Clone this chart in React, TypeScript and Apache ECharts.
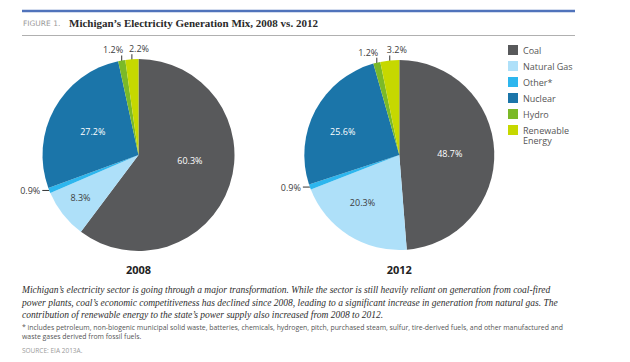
import React, { useEffect, useRef } from 'react';
import * as echarts from 'echarts';

const categories = ['Coal', 'Natural Gas', 'Other*', 'Nuclear', 'Hydro', 'Renewable Energy'];
const values2008 = [60.3, 8.3, 0.9, 27.2, 1.2, 2.2];
const values2012 = [48.7, 20.3, 0.9, 25.6, 1.2, 3.2];
const years = ['2008', '2012'];

const titlePrefix = 'FIGURE 1.';
const titleText = 'Michigan’s Electricity Generation Mix, 2008 vs. 2012';
const paragraphLines = [
  'Michigan’s electricity sector is going through a major transformation. While the sector is still heavily reliant on generation from coal-fired',
  'power plants, coal’s economic competitiveness has declined since 2008, leading to a significant increase in generation from natural gas. The',
  'contribution of renewable energy to the state’s power supply also increased from 2008 to 2012.',
];
const footnoteLines = [
  '* includes petroleum, non-biogenic municipal solid waste, batteries, chemicals, hydrogen, pitch, purchased steam, sulfur, tire-derived fuels, and other manufactured and',
  'waste gases derived from fossil fuels.',
];
const sourceText = 'SOURCE: EIA 2013A.';

// styling (not data)
const colors = ['#58595b', '#aee0f9', '#2db6ee', '#1b75a9', '#7bb928', '#c6d800'];
const innerLabelColors = ['#ffffff', '#3d3d3d', '#3d3d3d', '#ffffff', '#3d3d3d', '#3d3d3d'];
const outsidePlacement: Record<string, string> = {
  'Other*': 'left',
  Hydro: 'topLeft',
  'Renewable Energy': 'topRight',
};
const pieLayouts = [
  { center: [138.5, 155], radius: 96, nudges: [[3, -11], [-18, 11], [0, 0], [-1, 1], [0, 0], [0, 0]] },
  { center: [399.3, 155], radius: 95, nudges: [[0, 0], [-10, 5], [0, 0], [-12, 0], [0, 0], [0, 0]] },
];
const LABEL_FONT = '"Open Sans", sans-serif';

function makePie(vals: number[], idx: number) {
  const lay = pieLayouts[idx];
  return {
    type: 'pie',
    center: lay.center,
    radius: lay.radius,
    startAngle: 90,
    clockwise: true,
    avoidLabelOverlap: false,
    silent: true,
    label: {
      fontFamily: LABEL_FONT,
      fontSize: 9,
      color: '#3d3d3d',
      formatter: (p: any) => Number(p.value).toFixed(1) + '%',
    },
    labelLine: { show: true, length: 6, length2: 4, lineStyle: { color: '#333', width: 1 } },
    data: vals.map((v, i) => {
      const outside = !!outsidePlacement[categories[i]];
      return {
        name: categories[i],
        value: v,
        itemStyle: { color: colors[i] },
        label: { position: outside ? 'outside' : 'inside', color: outside ? '#3d3d3d' : innerLabelColors[i] },
        labelLine: { show: outside },
      };
    }),
    labelLayout: (p: any) => {
      const cat = categories[p.dataIndex];
      const place = outsidePlacement[cat];
      const pts = p.labelLinePoints;
      if (place && pts && pts.length) {
        const x0 = pts[0][0];
        const y0 = pts[0][1];
        if (place === 'left') {
          return {
            x: x0 - 9,
            y: y0,
            align: 'right',
            verticalAlign: 'middle',
            labelLinePoints: [[x0, y0], [x0 - 7, y0]],
          };
        }
        if (place === 'topLeft') {
          return {
            x: x0 + 1.5,
            y: y0 - 6,
            align: 'right',
            verticalAlign: 'bottom',
            labelLinePoints: [[x0, y0 + 2], [x0, y0 - 5]],
          };
        }
        return {
          x: x0 - 3,
          y: y0 - 6,
          align: 'left',
          verticalAlign: 'bottom',
          labelLinePoints: [[x0, y0 + 2], [x0, y0 - 5]],
        };
      }
      const r = p.labelRect;
      const n = lay.nudges[p.dataIndex];
      return {
        x: r.x + r.width / 2 + n[0],
        y: r.y + r.height / 2 + n[1],
        align: 'center',
        verticalAlign: 'middle',
      };
    },
  };
}

const legendBase = {
  orient: 'vertical',
  left: 508,
  padding: 0,
  itemWidth: 10,
  itemHeight: 10,
  itemGap: 6,
  icon: 'rect',
  selectedMode: false,
  textStyle: { fontFamily: LABEL_FONT, fontSize: 9, color: '#555', lineHeight: 10 },
};

export default function App() {
  const ref = useRef<HTMLDivElement>(null);
  useEffect(() => {
    if (!ref.current) return;
    const chart = echarts.init(ref.current, null, { renderer: 'svg' });
    const lastCat = categories[categories.length - 1];
    const option: any = {
      animation: false,
      backgroundColor: '#ffffff',
      legend: [
        {
          ...legendBase,
          top: 45,
          data: categories.slice(0, categories.length - 1),
        },
        {
          ...legendBase,
          top: 115,
          data: [lastCat],
          // leading blank line keeps the first text line level with the swatch
          formatter: (name: string) => '\n' + name.replace(' ', '\n'),
        },
      ],
      series: [makePie(values2008, 0), makePie(values2012, 1)],
      graphic: {
        elements: [
          { type: 'line', shape: { x1: 22, y1: 11, x2: 575, y2: 11 }, style: { stroke: '#5073bb', lineWidth: 2.5 }, silent: true },
          { type: 'line', shape: { x1: 22, y1: 35.5, x2: 575, y2: 35.5 }, style: { stroke: '#b0b0b0', lineWidth: 1 }, silent: true },
          {
            type: 'text', x: 23, y: 23,
            style: { text: titlePrefix, fontFamily: '"DejaVu Sans", sans-serif', fontSize: 7.5, fill: '#9a9a9a', verticalAlign: 'middle' },
          },
          {
            type: 'text', x: 69, y: 23,
            style: { text: titleText, fontFamily: '"Liberation Serif", serif', fontSize: 11, fontWeight: 'bold', fill: '#2a2a2a', verticalAlign: 'middle' },
          },
          ...years.map((y, i) => ({
            type: 'text', x: pieLayouts[i].center[0], y: 269,
            style: { text: y, fontFamily: LABEL_FONT, fontSize: 11, fontWeight: 'bold', fill: '#222', align: 'center', verticalAlign: 'middle' },
          })),
          {
            type: 'text', x: 22, y: 284,
            style: {
              text: paragraphLines.join('\n'),
              fontFamily: '"Liberation Serif", serif', fontStyle: 'italic', fontSize: 9.5, lineHeight: 12.5,
              fill: '#2e2e2e', verticalAlign: 'top',
            },
          },
          {
            type: 'text', x: 22, y: 322.5,
            style: {
              text: footnoteLines.join('\n'),
              fontFamily: LABEL_FONT, fontSize: 6.9, lineHeight: 9, fill: '#555', verticalAlign: 'top',
            },
          },
          {
            type: 'text', x: 22, y: 350,
            style: { text: sourceText, fontFamily: LABEL_FONT, fontSize: 6.5, fill: '#9a9a9a', verticalAlign: 'middle' },
          },
        ],
      },
    };
    chart.setOption(option);
    return () => chart.dispose();
  }, []);
  return <div ref={ref} style={{ position: 'fixed', left: 0, top: 0, width: 630, height: 362 }} />;
}
